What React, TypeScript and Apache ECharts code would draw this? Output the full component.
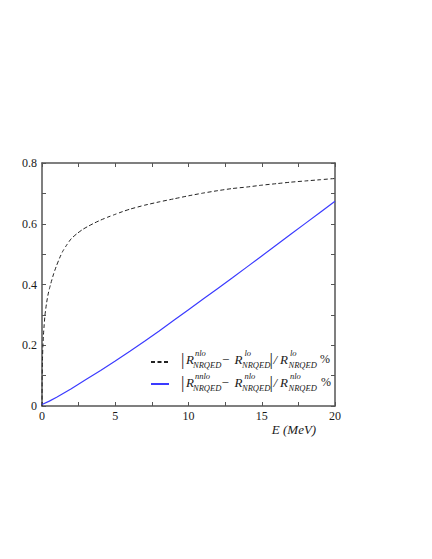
import React, { useEffect, useRef } from "react";
import * as echarts from "echarts";

// ---- data ----
const nloEnergy = [0, 0.01, 0.03, 0.06, 0.1, 0.15, 0.2, 0.3, 0.4, 0.5, 0.6, 0.8, 1.0, 1.2, 1.4, 1.7, 2.0, 2.4, 2.8, 3.2, 3.6, 4, 4.5, 5, 5.5, 6, 7, 8, 9, 10, 11, 12, 13, 14, 15, 16, 17, 18, 19, 20];
const nloDeviation = [0, 0.09, 0.15, 0.195, 0.235, 0.268, 0.298, 0.335, 0.364, 0.385, 0.403, 0.436, 0.463, 0.487, 0.508, 0.531, 0.551, 0.568, 0.582, 0.593, 0.603, 0.612, 0.622, 0.631, 0.64, 0.648, 0.661, 0.672, 0.682, 0.692, 0.701, 0.709, 0.716, 0.721, 0.727, 0.732, 0.737, 0.741, 0.745, 0.749];

const nnloEnergy = [0, 0.5, 1, 2, 3, 4, 5, 6, 7, 8, 9, 10, 11, 12, 13, 14, 15, 16, 17, 18, 19, 20];
const nnloDeviation = [0.005, 0.016, 0.029, 0.057, 0.087, 0.117, 0.148, 0.18, 0.213, 0.247, 0.282, 0.317, 0.352, 0.387, 0.422, 0.458, 0.494, 0.53, 0.566, 0.602, 0.638, 0.674];

const xTicks = [0, 5, 10, 15, 20];
const yTicks = [0, 0.2, 0.4, 0.6, 0.8];
const seriesNames = ["|R nlo - R lo| / R lo %", "|R nnlo - R nlo| / R nlo %"];
const xAxisTitle = "E (MeV)";

const legendRow1 = [
  { t: "|", x: 181, dy: 0, s: 17, it: false },
  { t: "R", x: 186, dy: 0, s: 13, it: true },
  { t: "nlo", x: 195, dy: -6, s: 8.5, it: true },
  { t: "NRQED", x: 193, dy: 6, s: 8.5, it: true },
  { t: "\u2212", x: 222, dy: 0, s: 13, it: false },
  { t: "R", x: 234.5, dy: 0, s: 13, it: true },
  { t: "lo", x: 244.5, dy: -6, s: 8.5, it: true },
  { t: "NRQED", x: 242, dy: 6, s: 8.5, it: true },
  { t: "|", x: 269.5, dy: 0, s: 17, it: false },
  { t: "/", x: 273.5, dy: 0, s: 13, it: true },
  { t: "R", x: 280, dy: 0, s: 13, it: true },
  { t: "lo", x: 290, dy: -6, s: 8.5, it: true },
  { t: "NRQED", x: 288.5, dy: 6, s: 8.5, it: true },
  { t: "%", x: 320, dy: 0, s: 12, it: false },
];
const legendRow2 = [
  { t: "|", x: 181, dy: 0, s: 17, it: false },
  { t: "R", x: 186, dy: 0, s: 13, it: true },
  { t: "nnlo", x: 195, dy: -6, s: 8.5, it: true },
  { t: "NRQED", x: 193, dy: 6, s: 8.5, it: true },
  { t: "\u2212", x: 221.5, dy: 0, s: 13, it: false },
  { t: "R", x: 234.5, dy: 0, s: 13, it: true },
  { t: "nlo", x: 244.5, dy: -6, s: 8.5, it: true },
  { t: "NRQED", x: 242, dy: 6, s: 8.5, it: true },
  { t: "|", x: 269.5, dy: 0, s: 17, it: false },
  { t: "/", x: 273.5, dy: 0, s: 13, it: true },
  { t: "R", x: 280, dy: 0, s: 13, it: true },
  { t: "nlo", x: 290, dy: -6, s: 8.5, it: true },
  { t: "NRQED", x: 288.5, dy: 6, s: 8.5, it: true },
  { t: "%", x: 321, dy: 0, s: 12, it: false },
];

const FONT = "Liberation Serif, Times New Roman, serif";
const AXIS_COLOR = "#555";
const TEXT_COLOR = "#1a1a1a";

function rowGraphics(row: typeof legendRow1, y: number) {
  return row.map((f) => ({
    type: "text",
    x: f.x,
    y: y + f.dy,
    silent: true,
    style: {
      text: f.t,
      fill: TEXT_COLOR,
      fontSize: f.s,
      fontFamily: FONT,
      fontStyle: f.it ? "italic" : "normal",
      align: "left",
      verticalAlign: "middle",
      textAlign: "left",
      textVerticalAlign: "middle",
    },
  }));
}

export default function App() {
  const ref = useRef<HTMLDivElement>(null);
  useEffect(() => {
    if (!ref.current) return;
    const chart = echarts.init(ref.current, null, { renderer: "svg" });
    const axisCommon = {
      axisLine: { show: true, onZero: false, lineStyle: { color: AXIS_COLOR, width: 1.5 } },
      axisTick: { show: true, inside: true, length: 4, lineStyle: { color: AXIS_COLOR, width: 1 } },
      minorTick: { show: true, splitNumber: 2, length: 4, lineStyle: { color: AXIS_COLOR, width: 1 } },
      splitLine: { show: false },
    };
    chart.setOption({
      animation: false,
      backgroundColor: "#fff",
      textStyle: { fontFamily: FONT },
      grid: { left: 42, right: 97, top: 163, bottom: 153, containLabel: false },
      xAxis: [
        {
          type: "value",
          min: xTicks[0],
          max: xTicks[xTicks.length - 1],
          interval: xTicks[1] - xTicks[0],
          position: "bottom",
          ...axisCommon,
          axisLabel: { color: TEXT_COLOR, fontFamily: FONT, fontSize: 12, margin: 4 },
        },
        {
          type: "value",
          min: xTicks[0],
          max: xTicks[xTicks.length - 1],
          interval: xTicks[1] - xTicks[0],
          position: "top",
          ...axisCommon,
          axisLabel: { show: false },
        },
      ],
      yAxis: [
        {
          type: "value",
          min: yTicks[0],
          max: yTicks[yTicks.length - 1],
          interval: yTicks[1] - yTicks[0],
          position: "left",
          ...axisCommon,
          axisLabel: {
            color: TEXT_COLOR,
            fontFamily: FONT,
            fontSize: 12,
            margin: 5,
            formatter: (v: number) => (v === 0 ? "0" : v.toFixed(1)),
          },
        },
        {
          type: "value",
          min: yTicks[0],
          max: yTicks[yTicks.length - 1],
          interval: yTicks[1] - yTicks[0],
          position: "right",
          ...axisCommon,
          axisLabel: { show: false },
        },
      ],
      legend: {
        orient: "vertical",
        left: 150,
        top: 357,
        padding: 0,
        itemWidth: 18,
        itemHeight: 10,
        itemGap: 13,
        data: seriesNames,
        formatter: () => "",
        selectedMode: false,
        itemStyle: { color: "rgba(0,0,0,0)", borderColor: "rgba(0,0,0,0)", borderWidth: 0 },
      },
      series: [
        {
          name: seriesNames[0],
          type: "line",
          xAxisIndex: 0,
          yAxisIndex: 0,
          symbol: "none",
          smooth: 0.2,
          data: nloEnergy.map((e, i) => [e, nloDeviation[i]]),
          lineStyle: { color: "#222", width: 1, type: [4, 2.5] },
          itemStyle: { color: "#222" },
        },
        {
          name: seriesNames[1],
          type: "line",
          xAxisIndex: 0,
          yAxisIndex: 0,
          symbol: "none",
          smooth: false,
          data: nnloEnergy.map((e, i) => [e, nnloDeviation[i]]),
          lineStyle: { color: "#3b3bff", width: 1.2 },
          itemStyle: { color: "#3b3bff" },
        },
      ],
      graphic: [
        ...rowGraphics(legendRow1, 359),
        ...rowGraphics(legendRow2, 382),
        {
          type: "text",
          x: 294,
          y: 429,
          silent: true,
          style: {
            text: xAxisTitle,
            fill: TEXT_COLOR,
            fontSize: 13,
            fontFamily: FONT,
            fontStyle: "italic",
            align: "center",
            verticalAlign: "middle",
            textAlign: "center",
            textVerticalAlign: "middle",
          },
        },
      ],
    });
    return () => chart.dispose();
  }, []);
  return <div ref={ref} style={{ width: 432, height: 559, margin: -8 }} />;
}
